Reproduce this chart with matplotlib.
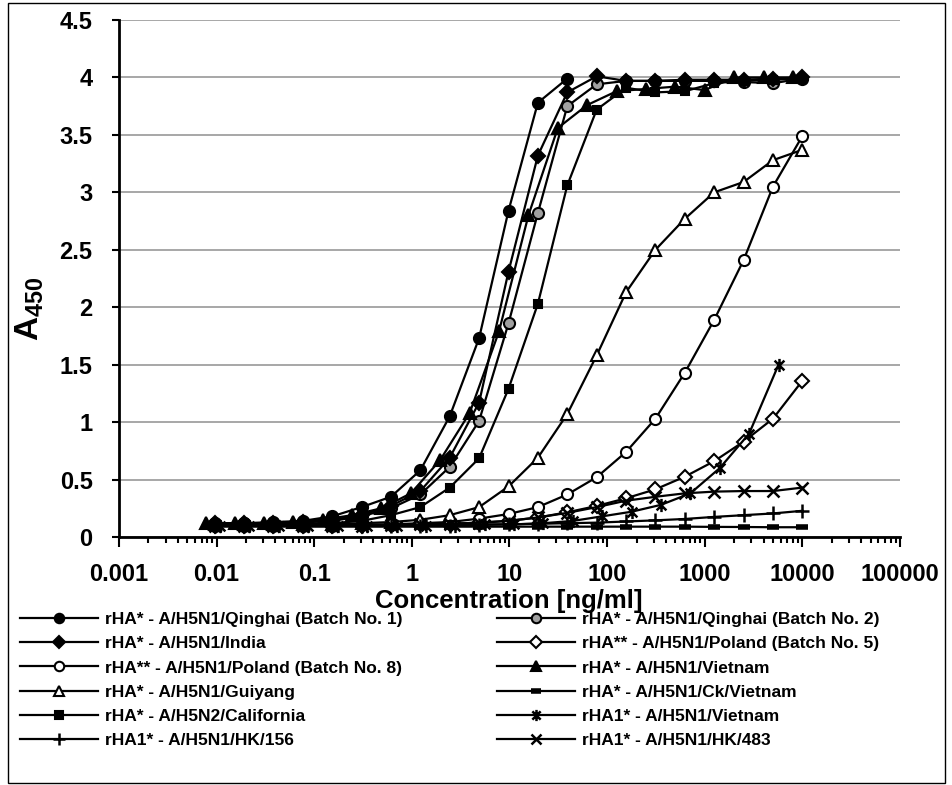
import matplotlib
matplotlib.use('Agg')
import matplotlib.pyplot as plt
from matplotlib.ticker import FixedLocator, LogLocator, NullFormatter, FuncFormatter
from matplotlib.path import Path
from matplotlib.patches import Rectangle
import numpy as np

# # fonts
plt.rcParams['font.family'] = ['Liberation Sans', 'DejaVu Sans']
plt.rcParams['mathtext.fontset'] = 'custom'
plt.rcParams['mathtext.rm'] = 'Liberation Sans:bold'
plt.rcParams['mathtext.it'] = 'Liberation Sans:bold'
plt.rcParams['mathtext.bf'] = 'Liberation Sans:bold'

# # concentrations [ng/ml], highest first
conc_std = [10000, 5000, 2500, 1250, 625, 312.5, 156.25, 78.13, 39.06, 19.53, 9.77,
            4.88, 2.44, 1.22, 0.61, 0.305, 0.153, 0.0763, 0.0381, 0.0191, 0.00954]
conc_vn = [8000, 4000, 2000, 1000, 500, 250, 125, 62.5, 31.25, 15.63, 7.81,
           3.91, 1.95, 0.977, 0.488, 0.244, 0.122, 0.061, 0.0305, 0.0153, 0.0078]
conc_rha1_vn = [5700, 2850, 1425, 712.5, 356.3, 178.1, 89.06, 44.53, 22.27, 11.13,
                5.57, 2.78, 1.39, 0.696, 0.348, 0.174, 0.087, 0.0435, 0.0217, 0.0109]
xtick_vals = [0.001, 0.01, 0.1, 1, 10, 100, 1000, 10000, 100000]

# # A450 readings
qinghai_b1 = [3.99, 3.78, 2.84, 1.73, 1.05, 0.58, 0.35, 0.26, 0.18, 0.14, 0.13, 0.12, 0.12]
qinghai_b2 = [3.99, 3.95, 3.96, 3.97, 3.97, 3.97, 3.97, 3.94, 3.75, 2.82, 1.86,
              1.01, 0.61, 0.37, 0.25, 0.18, 0.14, 0.13, 0.12, 0.12, 0.11]
india = [4.0, 3.99, 3.98, 3.98, 3.98, 3.97, 3.97, 4.01, 3.87, 3.32, 2.31,
         1.17, 0.69, 0.40, 0.27, 0.19, 0.15, 0.13, 0.12, 0.12, 0.12]
poland_b5 = [1.36, 1.03, 0.83, 0.66, 0.525, 0.415, 0.337, 0.27, 0.215, 0.17, 0.14,
             0.125, 0.115, 0.11, 0.105, 0.10, 0.10, 0.10, 0.10, 0.10, 0.10]
poland_b8 = [3.49, 3.05, 2.41, 1.89, 1.43, 1.03, 0.74, 0.52, 0.37, 0.26, 0.20,
             0.16, 0.13, 0.12, 0.11, 0.11, 0.10, 0.10, 0.10, 0.10, 0.10]
vietnam = [4.0, 4.0, 4.0, 3.89, 3.92, 3.90, 3.88, 3.76, 3.56, 2.80, 1.79,
           1.08, 0.67, 0.38, 0.25, 0.19, 0.15, 0.13, 0.12, 0.12, 0.12]
guiyang = [3.37, 3.28, 3.09, 3.00, 2.77, 2.50, 2.13, 1.58, 1.07, 0.69, 0.44,
           0.26, 0.19, 0.15, 0.13, 0.12, 0.11, 0.11, 0.11, 0.11, 0.11]
ck_vietnam = [0.085, 0.085, 0.087, 0.088, 0.09, 0.09, 0.09, 0.09, 0.09, 0.09, 0.09,
              0.09, 0.09, 0.09, 0.09, 0.09, 0.09, 0.09, 0.09, 0.09, 0.09]
california = [3.99, 3.98, 3.97, 3.95, 3.88, 3.87, 3.91, 3.72, 3.06, 2.03, 1.29,
              0.685, 0.43, 0.26, 0.19, 0.14, 0.12, 0.12, 0.11, 0.11, 0.11]
rha1_vietnam = [1.50, 0.90, 0.60, 0.38, 0.28, 0.22, 0.18, 0.14, 0.12, 0.11,
                0.11, 0.10, 0.10, 0.10, 0.10, 0.10, 0.10, 0.10, 0.10, 0.10]
hk156 = [0.228, 0.205, 0.19, 0.175, 0.157, 0.145, 0.135, 0.125, 0.12, 0.115, 0.11,
         0.105, 0.10, 0.10, 0.10, 0.10, 0.10, 0.10, 0.10, 0.10, 0.10]
hk483 = [0.43, 0.40, 0.40, 0.395, 0.38, 0.35, 0.316, 0.26, 0.21, 0.17, 0.14,
         0.125, 0.115, 0.11, 0.105, 0.10, 0.10, 0.10, 0.10, 0.10, 0.10]

# # excel style asterisk (x plus vertical bar)
star = Path([(-1, -1), (1, 1), (-1, 1), (1, -1), (0, -1.35), (0, 1.35)],
            [Path.MOVETO, Path.LINETO] * 3)

# label, x, y, marker, face, size, edge width
series = [
    ('rHA* - A/H5N1/Qinghai (Batch No. 1)', conc_std[8:], qinghai_b1, 'o', 'black', 8, 1.5),
    ('rHA* - A/H5N1/Qinghai (Batch No. 2)', conc_std, qinghai_b2, 'o', '#a0a0a0', 8, 1.5),
    ('rHA* - A/H5N1/India', conc_std, india, 'D', 'black', 7, 1.5),
    ('rHA** - A/H5N1/Poland (Batch No. 5)', conc_std, poland_b5, 'D', 'white', 7, 1.5),
    ('rHA** - A/H5N1/Poland (Batch No. 8)', conc_std, poland_b8, 'o', 'white', 8, 1.5),
    ('rHA* - A/H5N1/Vietnam', conc_vn, vietnam, '^', 'black', 8, 1.5),
    ('rHA* - A/H5N1/Guiyang', conc_std, guiyang, '^', 'white', 8, 1.5),
    ('rHA* - A/H5N1/Ck/Vietnam', conc_std, ck_vietnam, '_', 'black', 9, 4.0),
    ('rHA* - A/H5N2/California', conc_std, california, 's', 'black', 6.3, 1.5),
    ('rHA1* - A/H5N1/Vietnam', conc_rha1_vn, rha1_vietnam, star, 'black', 9.5, 1.8),
    ('rHA1* - A/H5N1/HK/156', conc_std, hk156, '+', 'black', 9.5, 1.8),
    ('rHA1* - A/H5N1/HK/483', conc_std, hk483, 'x', 'black', 8, 1.8),
]

fig = plt.figure(figsize=(9.53, 7.85), dpi=100)
ax = fig.add_axes([119/953, 1-537/785, (900-119)/953, (537-20)/785])

handles = []
for lab, x, y, mk, fc, ms, mew in series:
    h, = ax.plot(x, y, color='black', lw=1.6, marker=mk, markerfacecolor=fc,
                 markeredgecolor='black', markersize=ms, markeredgewidth=mew,
                 label=lab, clip_on=False, zorder=3)
    handles.append(h)

# # axes
ax.set_xscale('log')
ax.set_xlim(0.001, 100000)
ax.set_ylim(0, 4.5)
ax.set_yticks(np.arange(0, 4.51, 0.5))
ax.yaxis.set_major_formatter(FuncFormatter(lambda v, p: '%g' % v))
ax.xaxis.set_major_locator(FixedLocator(xtick_vals))
ax.xaxis.set_minor_locator(LogLocator(base=10, subs=np.arange(2, 10), numticks=20))
ax.xaxis.set_minor_formatter(NullFormatter())
ax.xaxis.set_major_formatter(FuncFormatter(lambda v, p: '%g' % v))

ax.grid(axis='y', color='#a0a0a0', lw=1.3, zorder=0)
ax.set_axisbelow(True)
for s in ['top', 'right']:
    ax.spines[s].set_visible(False)
for s in ['left', 'bottom']:
    ax.spines[s].set_linewidth(2)

ax.tick_params(axis='y', which='major', direction='out', length=5, width=1.5,
               pad=14, labelsize=17)
ax.tick_params(axis='x', which='major', direction='out', length=7, width=1.5,
               pad=12, labelsize=17)
ax.tick_params(axis='x', which='minor', direction='out', length=4, width=1.5)
for t in ax.get_xticklabels() + ax.get_yticklabels():
    t.set_fontweight('bold')

fig.text(509/953, 1-601/785, 'Concentration [ng/ml]', ha='center', va='center',
         fontsize=18.5, fontweight='bold')
fig.text(30/953, 1-309/785, r'A$_{450}$', ha='center', va='center', rotation=90,
         fontsize=24, fontweight='bold')

# # legend: two columns placed separately, row-major like the original
lprop = {'size': 12.5, 'weight': 'bold'}
lkw = dict(loc='upper left', frameon=False, borderaxespad=0, borderpad=0,
           numpoints=1, handlelength=4.5, handletextpad=0.4, markerscale=0.85,
           labelspacing=0.52, prop=lprop)
col1 = [0, 2, 4, 6, 8, 10]
col2 = [1, 3, 5, 7, 9, 11]
fig.legend([handles[i] for i in col1], [series[i][0] for i in col1],
           bbox_to_anchor=(20/953, 1-612/785), **lkw)
fig.legend([handles[i] for i in col2], [series[i][0] for i in col2],
           bbox_to_anchor=(497/953, 1-612/785), **lkw)

# # outer frame
fig.patches.append(Rectangle((8/953, 2/785), 937/953, 780/785, transform=fig.transFigure,
                             fill=False, edgecolor='black', lw=1))

fig.savefig('out.png', dpi=100)
